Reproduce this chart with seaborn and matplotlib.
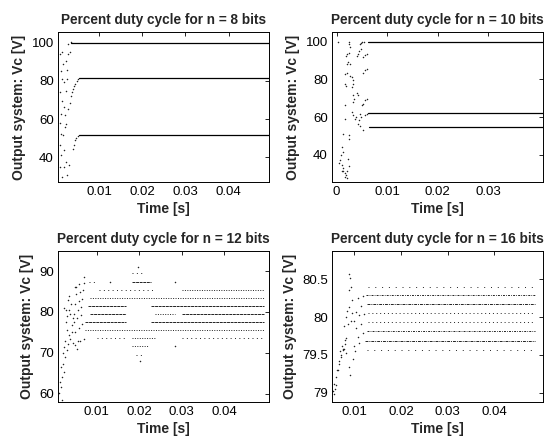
import numpy as np
import pandas as pd
import matplotlib
matplotlib.use("Agg")
import matplotlib.pyplot as plt
import seaborn as sns

sns.set_style("white")
plt.rcParams['font.family'] = ['Liberation Sans', 'DejaVu Sans']

# ---------------- data ----------------
titles = ["Percent duty cycle for n = 8 bits", "Percent duty cycle for n = 10 bits",
          "Percent duty cycle for n = 12 bits", "Percent duty cycle for n = 16 bits"]
t_end = [0.0494, 0.0409, 0.0494, 0.0487]

# n = 8 bits : steady levels (solid)
lvl8 = [100.0, 81.4, 51.7]
lvl8_start = [0.0034, 0.0052, 0.0053]
t8 = [0.00094, 0.0013, 0.0016, 0.0011, 0.0014, 0.0017, 0.0008, 0.0014, 0.0018, 0.0011,
      0.0020, 0.0016, 0.0008, 0.0011, 0.0018, 0.0008, 0.0014, 0.0026, 0.0022, 0.0030,
      0.0023, 0.0028, 0.0031, 0.0034, 0.0028, 0.0026, 0.0022, 0.0020, 0.0022,
      0.0028, 0.0031, 0.0034, 0.0036, 0.0038, 0.0041, 0.0044, 0.0048, 0.0051,
      0.0038, 0.0040, 0.0043, 0.0046, 0.0050, 0.0009, 0.0012, 0.0019, 0.0024]
v8 = [94.1, 95.0, 88.9, 85.4, 81.0, 79.3, 74.0, 69.7, 66.2, 62.8,
      55.8, 51.4, 46.2, 41.0, 34.9, 34.9, 29.7, 30.5, 37.5, 35.8,
      90.6, 94.1, 95.0, 100.2, 99.3, 81.0, 74.9, 61.9, 57.5,
      65.4, 68.5, 72.3, 74.2, 75.8, 77.2, 78.4, 79.8, 81.0,
      44.5, 46.5, 48.8, 50.2, 51.3, 58.0, 52.0, 44.0, 86.0]

# n = 10 bits
lvl10 = [100.0, 62.3, 54.8]
lvl10_start = [0.0063, 0.0063, 0.0065]
t10 = [0.0003, 0.0025, 0.0025, 0.0027, 0.0047, 0.0049, 0.0051, 0.0055, 0.0021, 0.0025,
       0.0019, 0.0040, 0.0042, 0.0045, 0.0048, 0.0023, 0.0027, 0.0020, 0.0053, 0.0057,
       0.0061, 0.0017, 0.0021, 0.0027, 0.0031, 0.0053, 0.0057, 0.0060, 0.0033, 0.0033,
       0.0030, 0.0017, 0.0019, 0.0040, 0.0043, 0.0050, 0.0053, 0.0057, 0.0060, 0.0033,
       0.0035, 0.0032, 0.0017, 0.0030, 0.0033, 0.0037, 0.0039, 0.0047, 0.0048, 0.0045,
       0.0043, 0.0047, 0.0053, 0.0057, 0.0060, 0.0017, 0.0013, 0.0025, 0.0025, 0.0010,
       0.0012, 0.0008, 0.0007, 0.0005, 0.0010, 0.0013, 0.0013, 0.0017, 0.0019, 0.0010,
       0.0023, 0.0025, 0.0021, 0.0020, 0.0017]
v10 = [100.0, 100.0, 98.6, 97.0, 98.6, 99.5, 100.0, 100.0, 93.4, 94.0,
       92.5, 92.5, 93.4, 94.8, 96.0, 89.0, 88.1, 88.1, 92.0, 93.0,
       93.7, 82.8, 83.6, 82.0, 81.0, 83.6, 84.8, 85.5, 79.4, 77.6,
       76.0, 77.6, 76.3, 73.0, 71.6, 66.3, 67.1, 68.8, 69.7, 71.6,
       69.7, 68.0, 66.3, 62.6, 61.0, 59.2, 60.0, 61.8, 60.1, 58.4,
       56.5, 55.2, 53.0, 61.0, 61.8, 59.2, 51.3, 50.5, 48.6, 44.2,
       41.5, 40.0, 37.2, 35.5, 34.6, 33.0, 31.2, 30.2, 29.3, 31.2,
       38.0, 33.9, 31.2, 27.6, 28.4]

# n = 12 bits : quantised rows (level, start, end, density)
row12_lvl = [87.3, 87.3, 85.4, 85.4, 83.4, 81.4, 81.4, 79.5, 79.5, 79.5,
             77.6, 77.6, 75.6, 73.7, 73.7, 73.7, 89.5, 71.7, 69.6]
row12_t0 = [0.0083, 0.0184, 0.0105, 0.0300, 0.0085, 0.0080, 0.0228, 0.0084, 0.0236, 0.0300,
            0.0072, 0.0228, 0.0072, 0.0100, 0.0184, 0.0300, 0.0184, 0.0184, 0.0192]
row12_t1 = [0.0100, 0.0228, 0.0236, 0.0494, 0.0494, 0.0168, 0.0494, 0.0168, 0.0284, 0.0494,
            0.0168, 0.0494, 0.0494, 0.0168, 0.0236, 0.0494, 0.0212, 0.0220, 0.0212]
row12_den = ["sparse", "dense", "sparse", "medium", "medium", "dense", "dense", "dense", "medium", "dense",
             "dense", "dense", "medium", "sparse", "medium", "sparse", "sparse", "medium", "sparse"]
t12 = [0.0012, 0.0015, 0.0019, 0.0023, 0.0021, 0.0025, 0.0031, 0.0023, 0.0033, 0.0026,
       0.0034, 0.0042, 0.0030, 0.0013, 0.0017, 0.0020, 0.0028, 0.0036, 0.0040, 0.0045,
       0.0024, 0.0029, 0.0038, 0.0044, 0.0050, 0.0055, 0.0033, 0.0037, 0.0041, 0.0048,
       0.0051, 0.0059, 0.0071, 0.0052, 0.0060, 0.0068, 0.0050, 0.0058, 0.0066, 0.0047,
       0.0056, 0.0064, 0.0046, 0.0054, 0.0062, 0.0049, 0.0058, 0.0066, 0.0053, 0.0061,
       0.0069, 0.0196, 0.0202, 0.0284, 0.0132, 0.0284, 0.0070, 0.0035, 0.0027, 0.0018]
v12 = [60.1, 61.7, 64.1, 65.3, 67.4, 69.0, 70.6, 71.4, 72.2, 73.0,
       74.3, 76.8, 79.0, 63.0, 66.5, 70.0, 77.5, 80.5, 82.0, 78.5,
       81.0, 75.5, 73.5, 72.5, 72.0, 73.0, 83.0, 79.5, 75.0, 86.0,
       86.0, 86.8, 87.2, 84.4, 85.0, 85.3, 82.0, 82.8, 83.2, 79.6,
       80.6, 81.2, 77.5, 78.5, 79.3, 75.0, 76.2, 77.0, 71.0, 72.8,
       73.5, 91.1, 68.1, 71.6, 87.3, 87.3, 88.5, 84.0, 80.5, 58.5]

# n = 16 bits : quantised rows
row16_lvl = [80.40, 80.29, 80.17, 80.05, 79.93, 79.81, 79.69, 79.57]
row16_t0 = [0.0129, 0.0125, 0.0127, 0.0130, 0.0130, 0.0128, 0.0122, 0.0128]
row16_den = ["vsparse", "dashdot", "dense", "medium", "medium", "dashdot", "dense", "vsparse"]
t16 = [0.0054, 0.0057, 0.0061, 0.0064, 0.0068, 0.0071, 0.0075, 0.0079, 0.0082, 0.0086,
       0.0088, 0.0089, 0.0091, 0.0089, 0.0093, 0.0095, 0.0089, 0.0091, 0.0079, 0.0076,
       0.0107, 0.0118, 0.0104, 0.0114, 0.0100, 0.0110, 0.0120, 0.0104, 0.0115, 0.0107,
       0.0118, 0.0099, 0.0110, 0.0063, 0.0066, 0.0070, 0.0073, 0.0077, 0.0081, 0.0084,
       0.0072, 0.0078, 0.0082, 0.0098, 0.0102, 0.0096, 0.0093, 0.0060, 0.0058, 0.0056]
v16 = [79.02, 79.12, 79.21, 79.30, 79.38, 79.47, 79.56, 79.65, 79.73, 79.91,
       80.13, 80.35, 80.52, 80.57, 80.39, 80.22, 79.34, 79.23, 79.70, 79.58,
       80.25, 80.28, 80.07, 80.14, 79.95, 80.02, 80.04, 79.85, 79.91, 79.74,
       79.79, 79.62, 79.66, 79.30, 79.42, 79.55, 79.62, 79.88, 80.00, 80.08,
       79.50, 79.58, 79.52, 79.45, 79.55, 80.05, 79.95, 79.10, 79.05, 78.98]

# ---------------- layout ----------------
W, H = 544, 445
boxes = [(58, 32, 269, 182), (332, 32, 543, 182), (58, 251, 269, 402), (332, 251, 543, 402)]
xlims = [(0.0004, 0.0494), (-0.0009, 0.0409), (0.0009, 0.0505), (0.0052, 0.0505)]
ylims = [(27, 105.7), (25.6, 105.1), (58, 94.9), (78.88, 80.87)]
xticks = [[0.01, 0.02, 0.03, 0.04], [0, 0.01, 0.02, 0.03], [0.01, 0.02, 0.03, 0.04], [0.01, 0.02, 0.03, 0.04]]
yticks = [[40, 60, 80, 100], [40, 60, 80, 100], [60, 70, 80, 90], [79, 79.5, 80, 80.5]]
ytl = [["40", "60", "80", "100"], ["40", "60", "80", "100"], ["60", "70", "80", "90"], ["79", "79.5", "80", "80.5"]]
xtl = [["0.01", "0.02", "0.03", "0.04"], ["0", "0.01", "0.02", "0.03"], ["0.01", "0.02", "0.03", "0.04"], ["0.01", "0.02", "0.03", "0.04"]]

# dash patterns (roughly in pixels at lw 0.7)
dash12 = {"dense": (0, (3.0, 0.7)), "medium": (0, (1.0, 1.5)), "sparse": (0, (1.0, 3.5))}
dash16 = {"dense": (0, (3.0, 1.0, 1.0, 1.0)), "medium": (0, (1.0, 3.0)), "vsparse": (0, (1.0, 6.0)),
          "dashdot": (0, (2.0, 1.2, 0.8, 1.2))}

fig = plt.figure(figsize=(W / 100, H / 100), dpi=100)
axes = []
for (l, t, r, b) in boxes:
    axes.append(fig.add_axes([l / W, (H - b) / H, (r - l) / W, (b - t) / H]))

dot_kw = dict(color="#222222", s=1.2, linewidth=0, marker="o", legend=False)

# panel 1
ax = axes[0]
sns.scatterplot(x=t8, y=v8, ax=ax, **dot_kw)
for lv, t0 in zip(lvl8, lvl8_start):
    sns.lineplot(x=[t0, t_end[0]], y=[lv, lv], ax=ax, color="black", lw=0.9)

# panel 2
ax = axes[1]
sns.scatterplot(x=t10, y=v10, ax=ax, **dot_kw)
for lv, t0 in zip(lvl10, lvl10_start):
    sns.lineplot(x=[t0, t_end[1]], y=[lv, lv], ax=ax, color="black", lw=0.9)

# panel 3
ax = axes[2]
sns.scatterplot(x=t12, y=v12, ax=ax, **dot_kw)
for lv, a, bb, d in zip(row12_lvl, row12_t0, row12_t1, row12_den):
    sns.lineplot(x=[a, bb], y=[lv, lv], ax=ax, color="#222222", lw=0.7, linestyle=dash12[d])

# panel 4
ax = axes[3]
sns.scatterplot(x=t16, y=v16, ax=ax, **dot_kw)
for lv, a, d in zip(row16_lvl, row16_t0, row16_den):
    sns.lineplot(x=[a, t_end[3]], y=[lv, lv], ax=ax, color="#222222", lw=0.7, linestyle=dash16[d])

for i, ax in enumerate(axes):
    ax.set_xlim(*xlims[i])
    ax.set_ylim(*ylims[i])
    ax.set_xticks(xticks[i])
    ax.set_xticklabels(xtl[i])
    ax.set_yticks(yticks[i])
    ax.set_yticklabels(ytl[i])
    ax.tick_params(direction="in", length=3, width=0.6, top=True, right=True,
                   labelsize=9.5, pad=3, colors="black")
    for sp in ax.spines.values():
        sp.set_visible(True)
        sp.set_color("black")
        sp.set_linewidth(0.7)
    ax.set_title(titles[i], fontsize=9.8, fontweight="bold", pad=6)
    ax.set_xlabel("Time [s]", fontsize=10, fontweight="bold", labelpad=3)
    ax.set_ylabel("Output system: Vc [V]", fontsize=10, fontweight="bold", labelpad=4)
    ax.grid(False)

fig.savefig("out.png", dpi=100, facecolor="white")
